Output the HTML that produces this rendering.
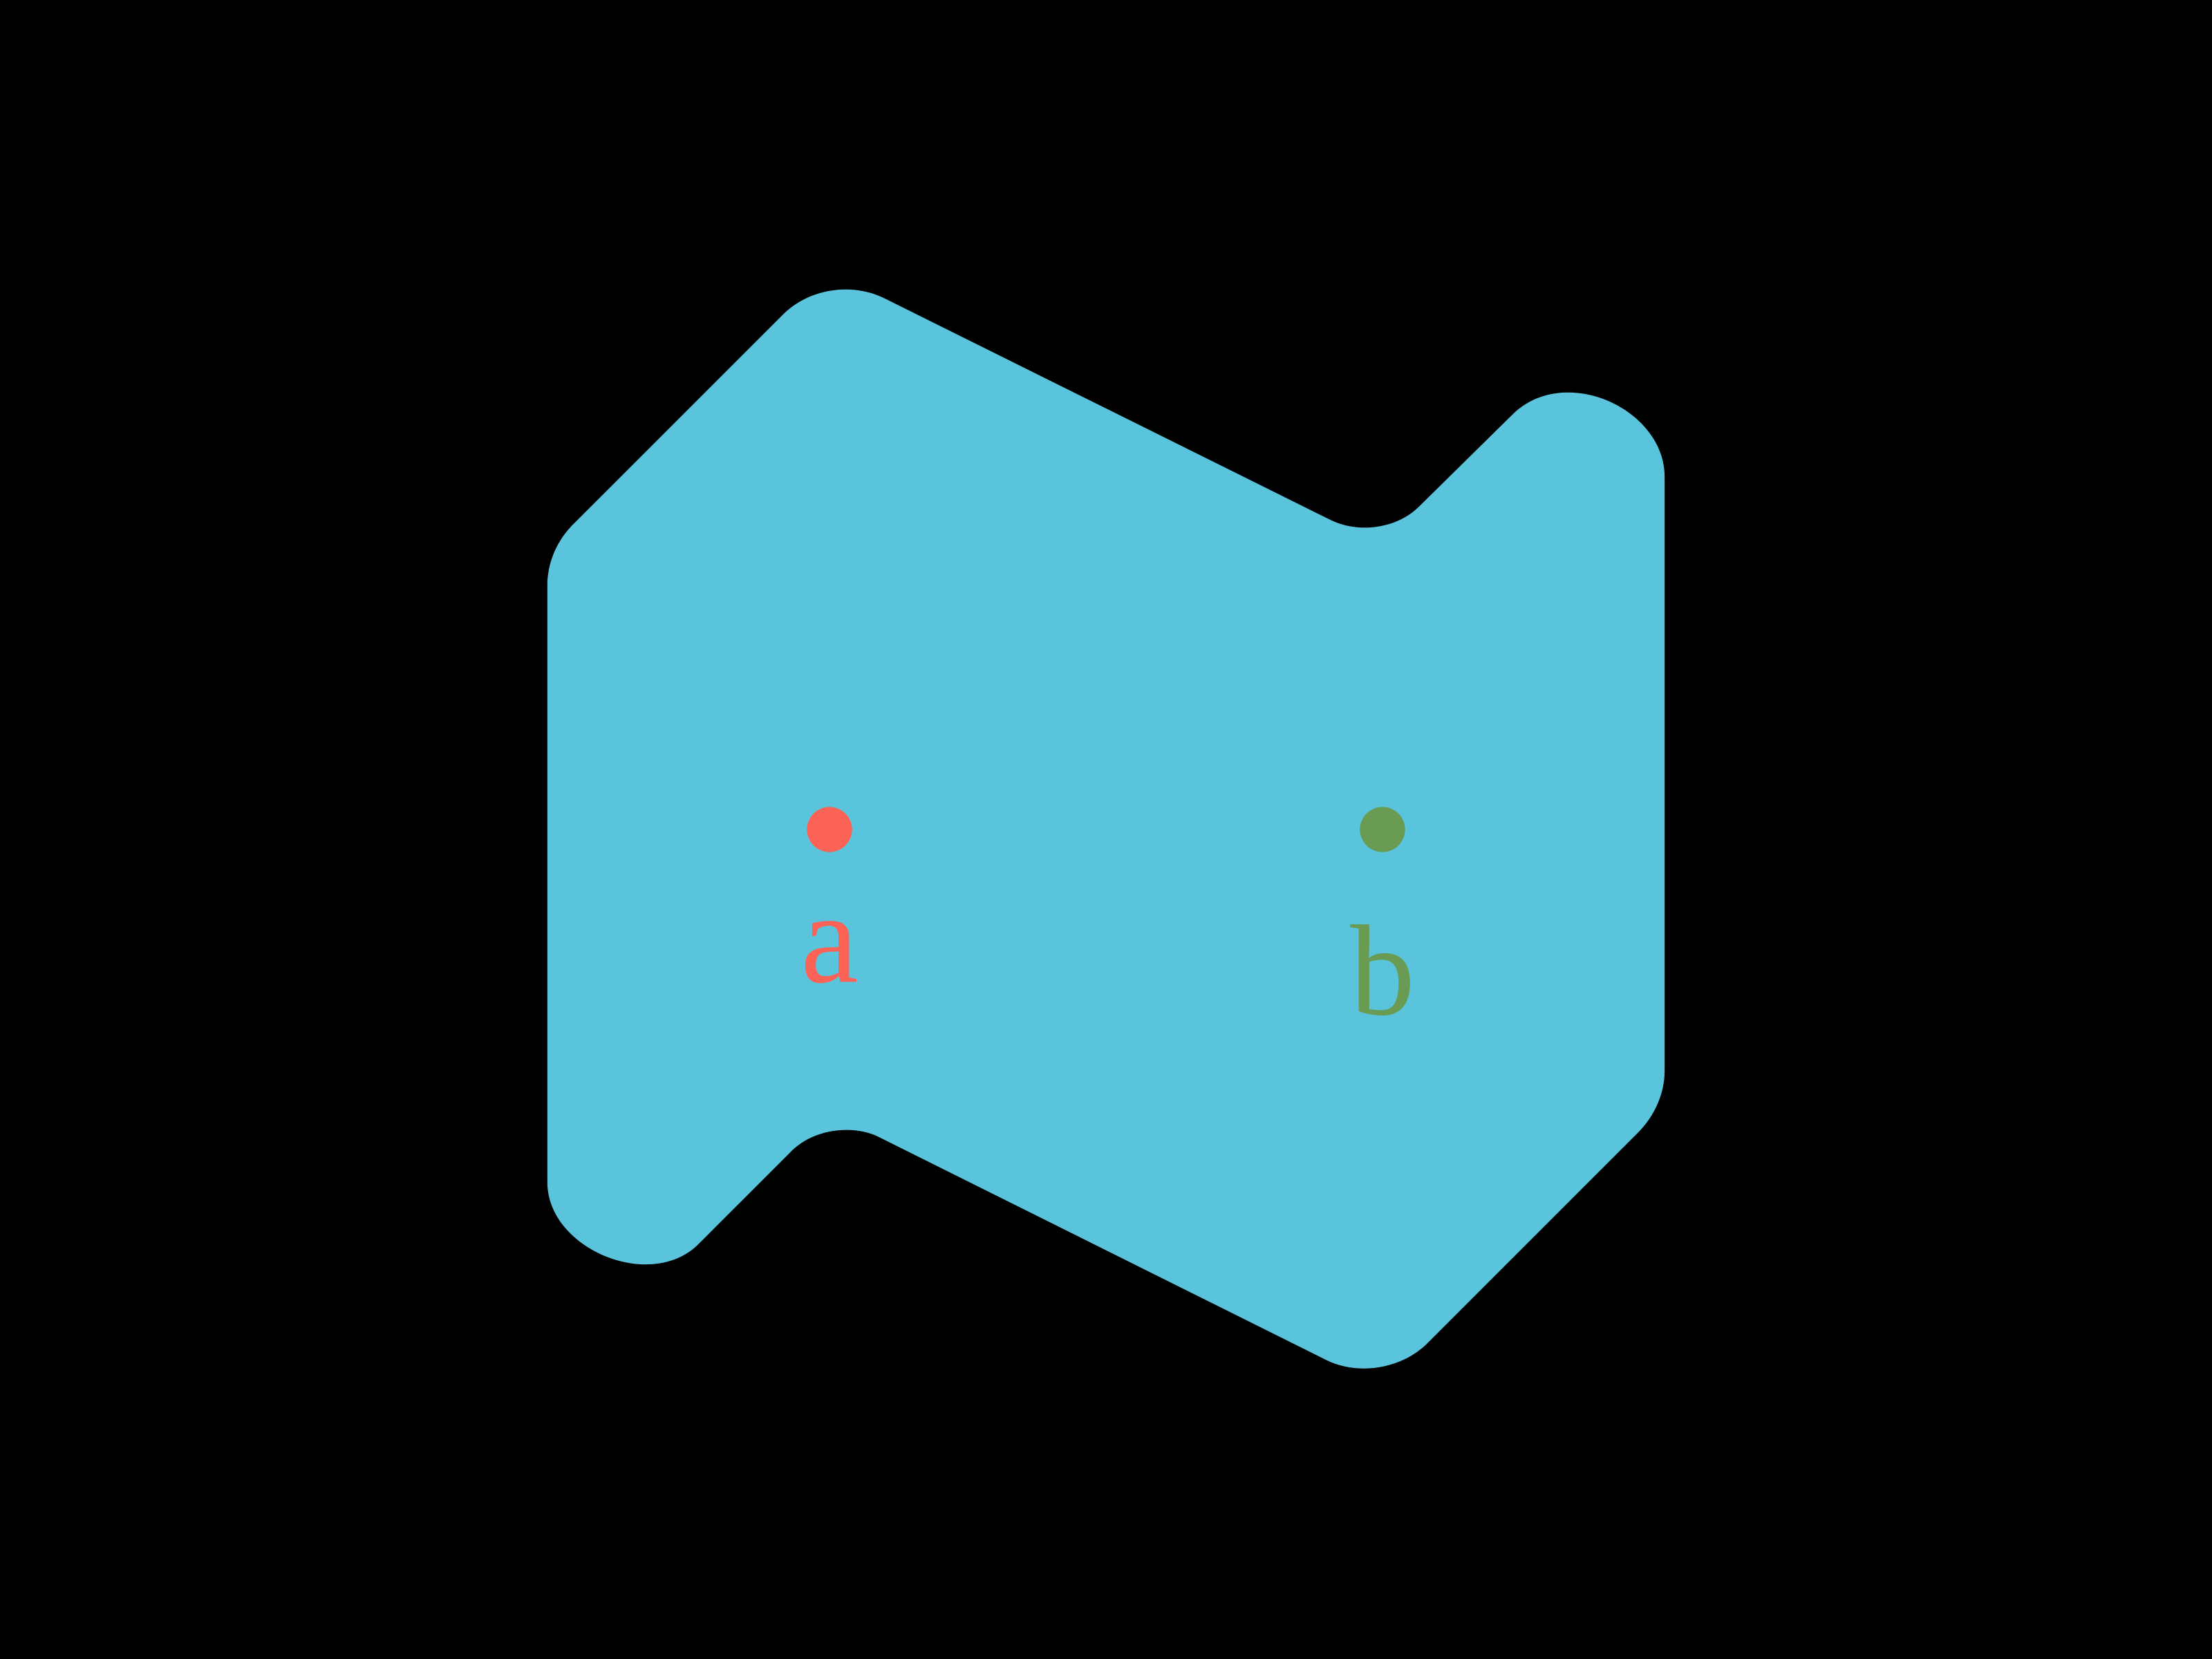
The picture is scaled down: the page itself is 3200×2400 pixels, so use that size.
<!DOCTYPE html>
<html>
<head>
<meta charset="utf-8">
<style>
  html,body{margin:0;padding:0;background:#000;}
  #wrap{width:3200px;height:2400px;background:#000;}
  svg{display:block;}
</style>
</head>
<body>
<div id="wrap">
<svg id="fig" width="3200" height="2400" viewBox="0 0 1568 1176" xmlns="http://www.w3.org/2000/svg">
  <rect x="0" y="0" width="1568" height="1176" fill="#000"/>
  <path fill="#5ac4dd"
    d="M 388,415 L 388,838
       C 388,885 460,915 494,883
       L 561,816
       C 577,800 605,797 623,806
       L 940,964
       C 962,975 993,971 1012,952
       L 1161,803
       C 1173,791 1180,775 1180,759
       L 1180,338
       C 1180,290 1110,258 1073,293
       L 1006,359
       C 990,375 963,378 944,369
       L 628,212
       C 605,200 574,204 555,223
       L 406,372
       C 394,384 388,400 388,415 Z"/>
  <g id="points"></g>
</svg>
</div>
<script>
const pointLabels = ["a", "b"];
const pointX = [588, 980];
const pointY = [588, 588];
const pointColors = ["#fc6255", "#699c52"];
const labelBaselines = [696, 719];

const NS = "http://www.w3.org/2000/svg";
const layer = document.getElementById("points");
for (let i = 0; i < pointLabels.length; i++) {
  const c = document.createElementNS(NS, "circle");
  c.setAttribute("cx", pointX[i]);
  c.setAttribute("cy", pointY[i]);
  c.setAttribute("r", 16);
  c.setAttribute("fill", pointColors[i]);
  
  
  layer.appendChild(c);
  const t = document.createElementNS(NS, "text");
  t.setAttribute("x", pointX[i]);
  t.setAttribute("y", labelBaselines[i]);
  t.setAttribute("text-anchor", "middle");
  t.setAttribute("font-family", "'Liberation Serif', serif");
  t.setAttribute("font-size", "92");
  t.setAttribute("fill", pointColors[i]);
  t.textContent = pointLabels[i];
  
  
  layer.appendChild(t);
}
</script>
</body>
</html>
